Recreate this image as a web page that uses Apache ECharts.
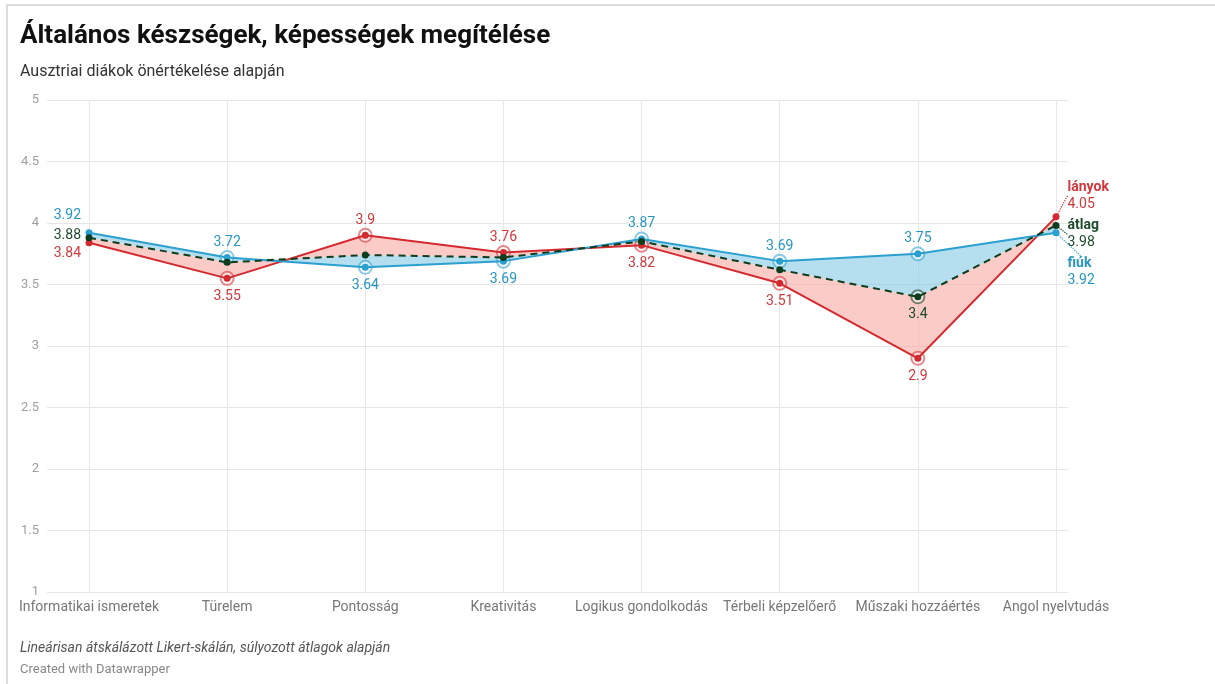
<!DOCTYPE html>
<html>
<head>
<meta charset="utf-8">
<script src="https://cdn.jsdelivr.net/npm/echarts@6/dist/echarts.min.js"></script>
<style>
html, body { margin: 0; padding: 0; background: #fff; }
#chart { width: 1215px; height: 684px; }
</style>
</head>
<body>
<div id="chart"></div>
<script>
const categories = ["Informatikai ismeretek", "Türelem", "Pontosság", "Kreativitás", "Logikus gondolkodás", "Térbeli képzelőerő", "Műszaki hozzáértés", "Angol nyelvtudás"];
const fiuk = [3.92, 3.72, 3.64, 3.69, 3.87, 3.69, 3.75, 3.92];
const lanyok = [3.84, 3.55, 3.9, 3.76, 3.82, 3.51, 2.9, 4.05];
const atlag = [3.88, 3.68, 3.74, 3.72, 3.85, 3.62, 3.4, 3.98];
const atlagLabelIdx = [0, 6, 7];

const RED = "#d42a2f", BLUE = "#2a9fd0", GREEN = "#0d3d1d";
const RED_T = "#d2383c", BLUE_T = "#2796c4", GREEN_T = "#1d4a2b";
const PINK_FILL = "rgba(248,165,158,0.58)", BLUE_FILL = "rgba(120,196,226,0.55)";
const last = categories.length - 1;
const font = "Roboto";
const FS = 14;

function endLabel(name, v, tcol) {
  return {
    show: true, position: "right", distance: 10,
    formatter: "{n|" + name + "}\n{v|" + v + "}",
    rich: {
      n: { fontWeight: "bold", color: tcol, fontSize: FS, fontFamily: font, lineHeight: 17 },
      v: { color: tcol, fontSize: FS, fontFamily: font, lineHeight: 17 }
    }
  };
}

// label above for the higher of boys/girls, below for the lower
function pointData(vals, other, name, tcol) {
  return vals.map((v, i) => {
    if (i === 0) return { value: v, label: { show: true } };
    if (i === last) return { value: v, label: endLabel(name, v, tcol), labelLine: { show: true } };
    const up = v >= other[i];
    return { value: v, label: { show: true, position: up ? "top" : "bottom", distance: up ? 4.5 : 7.5 } };
  });
}

// shifts (px) of the first and last labels, per series
const firstShift = { 0: 11, 1: -17, 2: -2 };
const endShift = { 0: -21, 1: 39, 2: 9 };

function lineSeries(name, data, color, tcol, dashed, sIdx) {
  return {
    name, type: "line", xAxisIndex: 1, yAxisIndex: 1,
    data, symbol: "circle", symbolSize: 7, z: 5,
    lineStyle: { color, width: 2, type: dashed ? [7, 5] : "solid" },
    itemStyle: { color },
    label: { color: tcol, fontSize: FS, fontFamily: font },
    labelLine: { show: false, lineStyle: { color, type: "dotted", width: 1.2 } },
    labelLayout: function (p) {
      const cy = p.rect.y + p.rect.height / 2;
      if (p.dataIndex === 0) {
        return { x: p.rect.x - 4.5, y: cy + firstShift[sIdx], align: "right", verticalAlign: "middle" };
      }
      if (p.dataIndex === last) {
        return { x: p.rect.x + p.rect.width + 8, y: cy + endShift[sIdx], align: "left", verticalAlign: "middle" };
      }
      return {};
    }
  };
}

function ringSeries(vals, idx, color) {
  return {
    type: "scatter", xAxisIndex: 1, yAxisIndex: 1,
    data: idx.map(i => [i, vals[i]]), symbol: "emptyCircle", symbolSize: 13, z: 4,
    itemStyle: { color, borderWidth: 1, opacity: 0.55 },
    silent: true
  };
}

function bandSeries(upper, lower, fill) {
  return {
    type: "custom", xAxisIndex: 1, yAxisIndex: 1, z: 2, silent: true,
    data: categories.slice(0, -1).map((c, i) => [i, upper[i], lower[i], upper[i + 1], lower[i + 1]]),
    renderItem: function (params, api) {
      const i = api.value(0);
      const pts = [
        api.coord([i, api.value(1)]), api.coord([i + 1, api.value(3)]),
        api.coord([i + 1, api.value(4)]), api.coord([i, api.value(2)])
      ];
      return { type: "polygon", shape: { points: pts }, style: { fill } };
    }
  };
}

const chart = echarts.init(document.getElementById("chart"));
chart.setOption({
  animation: false,
  textStyle: { fontFamily: font },
  title: [
    { text: "Általános készségek, képességek megítélése", left: 20, top: 23, padding: 0,
      textStyle: { fontSize: 26, fontWeight: "bold", color: "#111", fontFamily: font } },
    { text: "Ausztriai diákok önértékelése alapján", left: 20, top: 64, padding: 0,
      textStyle: { fontSize: 16, fontWeight: "normal", color: "#333", fontFamily: font } },
    { text: "Lineárisan átskálázott Likert-skálán, súlyozott átlagok alapján", left: 20, top: 641, padding: 0,
      textStyle: { fontSize: 14, fontStyle: "italic", fontWeight: "normal", color: "#555", fontFamily: font } },
    { text: "Created with Datawrapper", left: 20, top: 663, padding: 0,
      textStyle: { fontSize: 13, fontWeight: "normal", color: "#888", fontFamily: font } }
  ],
  graphic: [{
    type: "rect", silent: true,
    shape: { x: 7, y: 5, width: 1400, height: 900 },
    style: { fill: "none", stroke: "#dcdcdc", lineWidth: 2 }
  }],
  grid: [
    { left: 47, right: 147, top: 100, bottom: 92 },
    { left: 89, right: 159, top: 100, bottom: 92 }
  ],
  xAxis: [
    { gridIndex: 0, type: "value", show: false, min: 0, max: 1 },
    { gridIndex: 1, type: "category", data: categories, boundaryGap: false,
      axisLine: { show: false }, axisTick: { show: false },
      splitLine: { show: true, lineStyle: { color: "#e8e8e8" } },
      axisLabel: { color: "#777", fontSize: 14, margin: 8, fontFamily: font, interval: 0 } }
  ],
  yAxis: [
    { gridIndex: 0, type: "value", min: 1, max: 5, interval: 0.5,
      axisLine: { show: false }, axisTick: { show: false },
      splitLine: { lineStyle: { color: "#e6e6e6" } },
      axisLabel: { color: "#a0a0a0", fontSize: 13, margin: 8, fontFamily: font } },
    { gridIndex: 1, type: "value", min: 1, max: 5, show: false, splitLine: { show: false } }
  ],
  series: [
    bandSeries(fiuk, atlag, BLUE_FILL),
    bandSeries(atlag, lanyok, PINK_FILL),
    ringSeries(fiuk, [1, 2, 3, 4, 5, 6], BLUE),
    ringSeries(lanyok, [1, 2, 3, 4, 5, 6], RED),
    ringSeries(atlag, [6], GREEN),
    lineSeries("lányok", pointData(lanyok, fiuk, "lányok", RED_T), RED, RED_T, false, 0),
    lineSeries("fiúk", pointData(fiuk, lanyok, "fiúk", BLUE_T), BLUE, BLUE_T, false, 1),
    lineSeries("átlag", atlag.map((v, i) => {
      if (i === last) return { value: v, label: endLabel("átlag", v, GREEN_T), labelLine: { show: true } };
      if (i === 0) return { value: v, label: { show: true } };
      if (atlagLabelIdx.includes(i)) return { value: v, label: { show: true, position: "bottom", distance: 7.5 } };
      return { value: v, label: { show: false } };
    }), GREEN, GREEN_T, true, 2)
  ]
});
</script>
</body>
</html>
